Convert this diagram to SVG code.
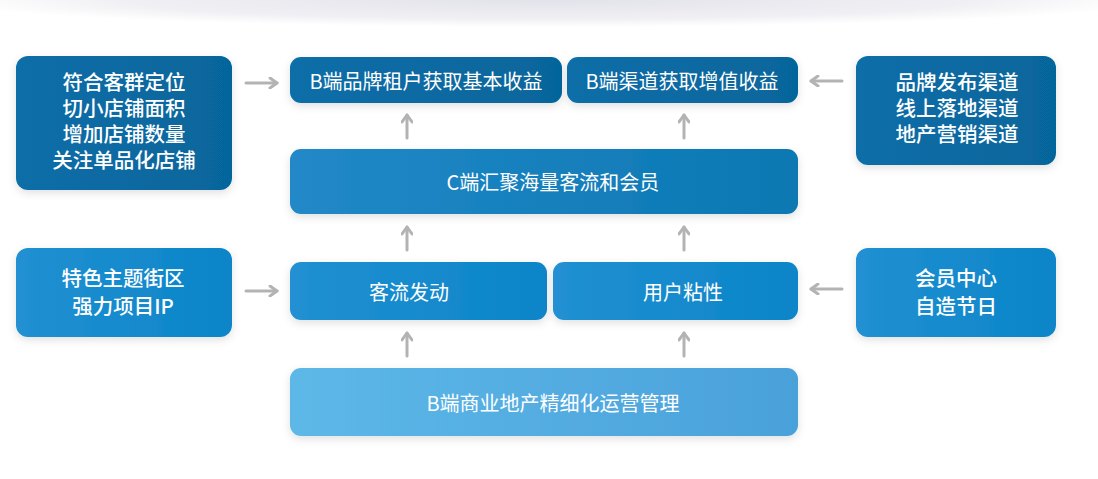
<svg xmlns="http://www.w3.org/2000/svg" width="1098" height="479" viewBox="0 0 1098 479">
<style>
text{font-family:"Noto Sans CJK SC","Noto Sans",sans-serif;fill:#fff;text-anchor:middle;dominant-baseline:central}
.b{font-size:20.5px;font-weight:500}
.m{font-size:20px;font-weight:400}
.ar{fill:none;stroke:#b3b3b3;stroke-width:3;stroke-linecap:round;stroke-linejoin:round}
</style>
<defs>
<radialGradient id="topg" gradientUnits="userSpaceOnUse" cx="549" cy="0" r="600" gradientTransform="translate(549 0) scale(1 0.045) translate(-549 0)">
<stop offset="0" stop-color="#e2e2ea"/>
<stop offset="0.7" stop-color="#f0f0f4"/>
<stop offset="1" stop-color="#fff"/>
</radialGradient>
<linearGradient id="dark" x1="0" x2="1" y1="0" y2="0">
<stop offset="0" stop-color="#0e6ea8"/>
<stop offset="1" stop-color="#06659b"/>
</linearGradient>
<linearGradient id="cbox" x1="0" x2="1" y1="0" y2="0">
<stop offset="0" stop-color="#2288c8"/>
<stop offset="1" stop-color="#0a78b2"/>
</linearGradient>
<linearGradient id="mid" x1="0" x2="1" y1="0" y2="0">
<stop offset="0" stop-color="#2190d2"/>
<stop offset="1" stop-color="#0a85c8"/>
</linearGradient>
<linearGradient id="light" x1="0" x2="1" y1="0" y2="0">
<stop offset="0" stop-color="#5db8e8"/>
<stop offset="1" stop-color="#4aa1da"/>
</linearGradient>
<filter id="sh" x="-10%" y="-20%" width="120%" height="150%">
<feDropShadow dx="0" dy="3" stdDeviation="4" flood-color="#000" flood-opacity="0.12"/>
</filter>
<marker id="ah" viewBox="0 0 12 12" refX="10" refY="6" markerWidth="12" markerHeight="12" markerUnits="userSpaceOnUse" orient="auto">
<path d="M3 1 L10 6 L3 11" fill="none" stroke="#b3b3b3" stroke-width="3" stroke-linecap="round" stroke-linejoin="round"/>
</marker>
</defs>
<rect width="1098" height="479" fill="#fff"/>
<rect x="0" y="0" width="1098" height="30" fill="url(#topg)"/>

<g id="connectors">
<line class="ar" x1="246" y1="83" x2="277" y2="83" marker-end="url(#ah)"/>
<line class="ar" x1="246" y1="291" x2="277" y2="291" marker-end="url(#ah)"/>
<line class="ar" x1="842" y1="81" x2="811" y2="81" marker-end="url(#ah)"/>
<line class="ar" x1="842" y1="289" x2="811" y2="289" marker-end="url(#ah)"/>
<line class="ar" x1="407" y1="138" x2="407" y2="115" marker-end="url(#ah)"/>
<line class="ar" x1="684" y1="138" x2="684" y2="115" marker-end="url(#ah)"/>
<line class="ar" x1="407" y1="250" x2="407" y2="227" marker-end="url(#ah)"/>
<line class="ar" x1="684" y1="250" x2="684" y2="227" marker-end="url(#ah)"/>
<line class="ar" x1="407" y1="356" x2="407" y2="333" marker-end="url(#ah)"/>
<line class="ar" x1="684" y1="356" x2="684" y2="333" marker-end="url(#ah)"/>
</g>

<g id="n-left-top">
<rect x="16" y="56" width="216" height="134" rx="12" fill="url(#dark)" filter="url(#sh)"/>
<text class="b" x="124" y="81">符合客群定位</text>
<text class="b" x="124" y="107">切小店铺面积</text>
<text class="b" x="124" y="133">增加店铺数量</text>
<text class="b" x="124" y="159">关注单品化店铺</text>
</g>
<g id="n-brand">
<rect x="290" y="57" width="272" height="46" rx="11" fill="url(#dark)" filter="url(#sh)"/>
<text class="m" x="426" y="80">B端品牌租户获取基本收益</text>
</g>
<g id="n-channel">
<rect x="567" y="57" width="231" height="46" rx="11" fill="url(#dark)" filter="url(#sh)"/>
<text class="m" x="682" y="80">B端渠道获取增值收益</text>
</g>
<g id="n-right-top">
<rect x="856" y="56" width="200" height="109" rx="12" fill="url(#dark)" filter="url(#sh)"/>
<text class="b" x="957" y="81">品牌发布渠道</text>
<text class="b" x="957" y="107">线上落地渠道</text>
<text class="b" x="957" y="133">地产营销渠道</text>
</g>
<g id="n-c">
<rect x="290" y="149" width="508" height="65" rx="11" fill="url(#cbox)" filter="url(#sh)"/>
<text class="m" x="553" y="181">C端汇聚海量客流和会员</text>
</g>
<g id="n-left-mid">
<rect x="16" y="248" width="216" height="89" rx="12" fill="url(#mid)" filter="url(#sh)"/>
<text class="b" x="123" y="277">特色主题街区</text>
<text class="b" x="123" y="305">强力项目IP</text>
</g>
<g id="n-flow">
<rect x="290" y="262" width="257" height="58" rx="11" fill="url(#mid)" filter="url(#sh)"/>
<text class="m" x="409" y="291">客流发动</text>
</g>
<g id="n-sticky">
<rect x="553" y="262" width="245" height="58" rx="11" fill="url(#mid)" filter="url(#sh)"/>
<text class="m" x="683" y="291">用户粘性</text>
</g>
<g id="n-right-mid">
<rect x="856" y="248" width="200" height="89" rx="12" fill="url(#mid)" filter="url(#sh)"/>
<text class="b" x="956" y="277">会员中心</text>
<text class="b" x="956" y="305">自造节日</text>
</g>
<g id="n-bottom">
<rect x="290" y="368" width="508" height="68" rx="11" fill="url(#light)" filter="url(#sh)"/>
<text class="m" x="553" y="402">B端商业地产精细化运营管理</text>
</g>
</svg>
